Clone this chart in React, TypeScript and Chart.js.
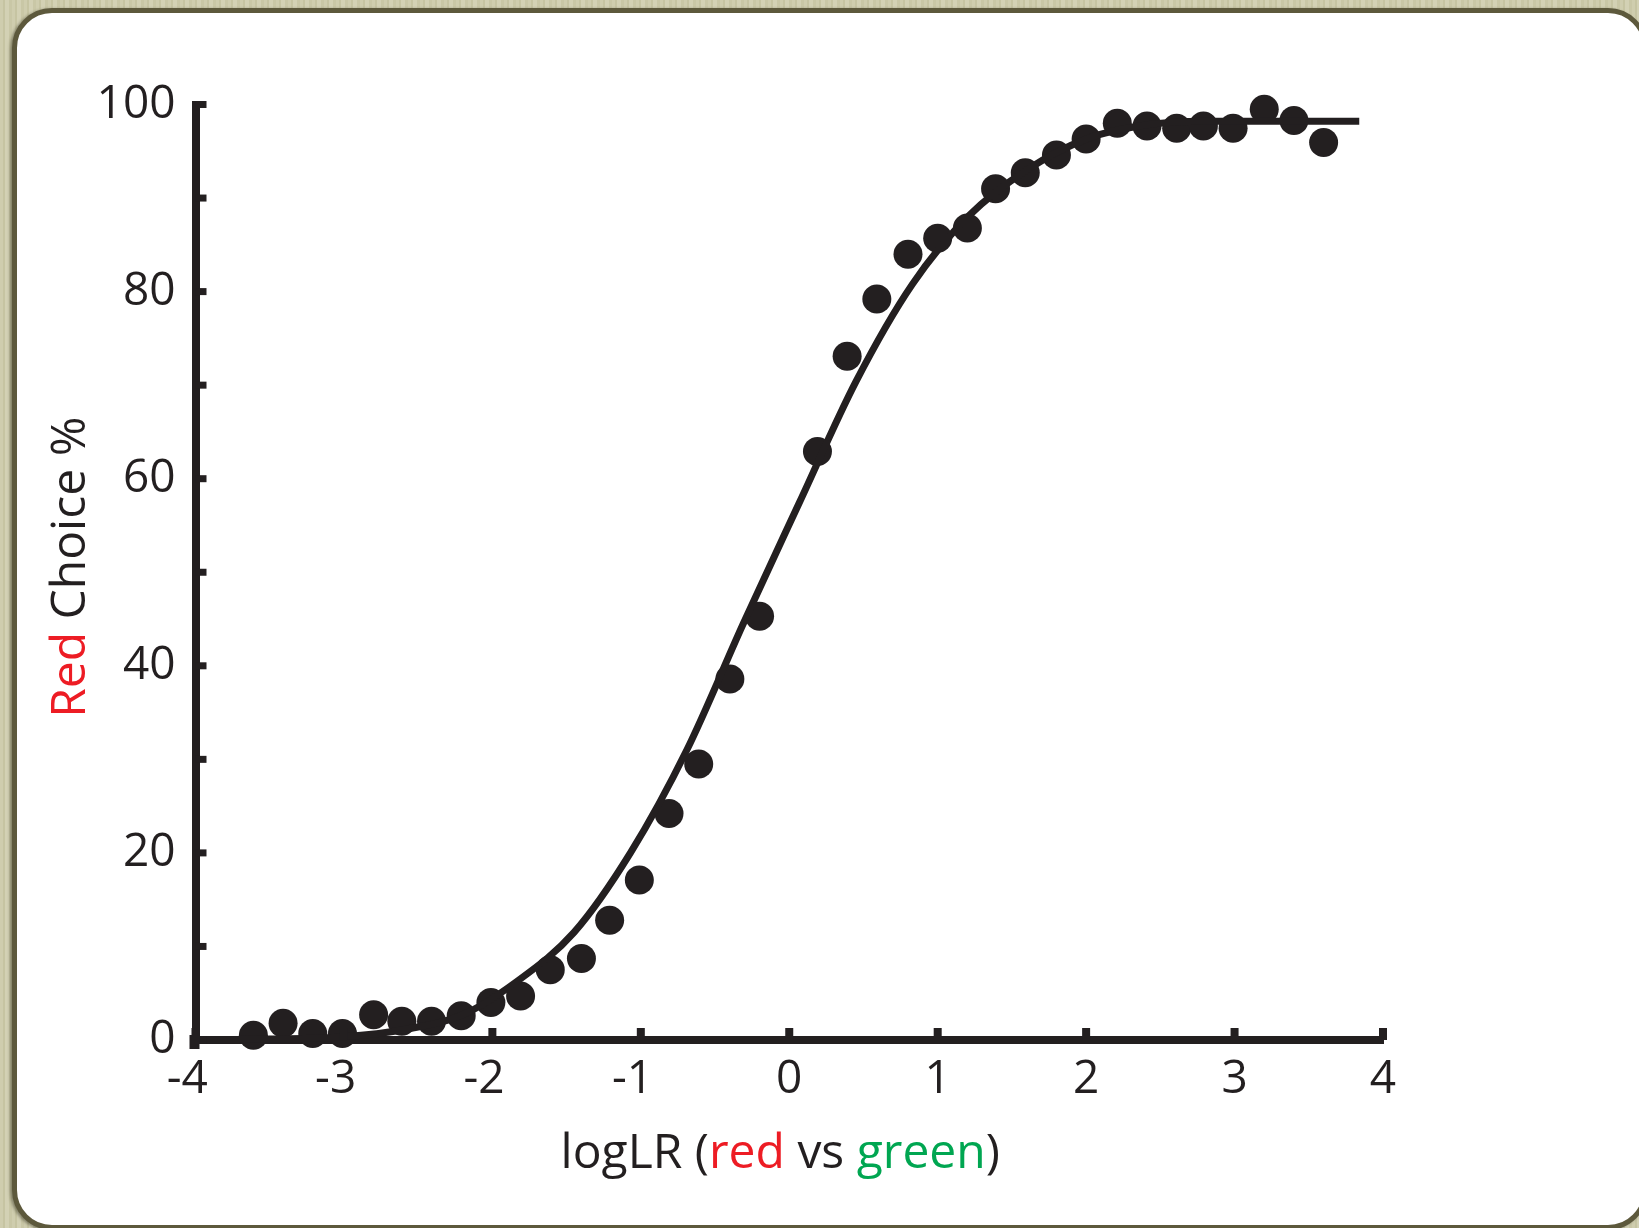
import React, { useEffect, useRef } from "react";
import { Chart, registerables } from "chart.js";

Chart.register(...registerables);

// ---- data ----
const POINT_X = [
  -3.61, -3.41, -3.21, -3.01, -2.8, -2.61, -2.41, -2.21, -2.01, -1.81, -1.61, -1.4,
  -1.21, -1.01, -0.81, -0.61, -0.4, -0.2, 0.19, 0.39, 0.59, 0.8, 1.0, 1.2, 1.39, 1.59,
  1.8, 2.0, 2.21, 2.41, 2.61, 2.79, 2.99, 3.2, 3.4, 3.6,
];
const POINT_Y = [
  0.5, 1.8, 0.7, 0.7, 2.7, 2.0, 2.0, 2.6, 4.0, 4.7, 7.5, 8.7, 12.8, 17.1, 24.2, 29.5,
  38.6, 45.3, 62.9, 73.1, 79.2, 84.0, 85.7, 86.8, 91.0, 92.7, 94.6, 96.3, 98.0, 97.7,
  97.45, 97.7, 97.45, 99.5, 98.3, 95.95,
];
const FIT_X = [
  -4, -3.5, -3, -2.6, -2.2, -1.84, -1.45, -1.07, -0.69, -0.31, 0.07, 0.45, 0.83, 1.21,
  1.6, 2.0, 2.4, 2.8, 3.2, 3.84,
];
const FIT_Y = [
  0.0, 0.1, 0.35, 1.1, 2.7, 6.2, 11.5, 20.0, 31.0, 44.5, 57.5, 70.4, 80.8, 88.1, 93.0,
  96.3, 97.8, 98.2, 98.2, 98.2,
];
const X_TITLE = [
  ["logLR (", "ink"],
  ["red", "red"],
  [" vs ", "ink"],
  ["green", "green"],
  [")", "ink"],
];
const Y_TITLE = [
  ["Red", "red"],
  [" Choice %", "ink"],
];

const INK = "#231f20";
const COLORS: Record<string, string> = { ink: INK, red: "#ed1c24", green: "#00a651" };
const FONT = '"Open Sans", "Noto Sans", sans-serif';

const decorPlugin = {
  id: "decor",
  afterDraw(chart: any) {
    const { ctx, chartArea, scales } = chart;
    const xs = scales.x;
    const ys = scales.y;
    ctx.save();
    ctx.fillStyle = INK;
    // inward tick marks
    ys.ticks.forEach((t: any) => {
      const py = ys.getPixelForValue(t.value);
      ctx.fillRect(chartArea.left, py - 3.5, 11, 7);
    });
    xs.ticks.forEach((t: any) => {
      const px = xs.getPixelForValue(t.value);
      ctx.fillRect(px - 4, chartArea.bottom - 12, 8, 12);
    });
    // corner foot
    ctx.fillRect(chartArea.left - 6, chartArea.bottom - 5, 10, 14);

    // x title
    ctx.font = `48px ${FONT}`;
    ctx.textBaseline = "alphabetic";
    ctx.textAlign = "left";
    const widths = X_TITLE.map((p) => ctx.measureText(p[0]).width);
    const total = widths.reduce((a, b) => a + b, 0);
    let x0 = (chartArea.left + chartArea.right) / 2 - 9 - total / 2;
    const by = chartArea.bottom + 128;
    X_TITLE.forEach((p, i) => {
      ctx.fillStyle = COLORS[p[1]];
      ctx.fillText(p[0], x0, by);
      x0 += widths[i];
    });

    // y title
    ctx.font = `48px ${FONT}`;
    const yw = Y_TITLE.map((p) => ctx.measureText(p[0]).width);
    const ytot = yw.reduce((a, b) => a + b, 0);
    ctx.translate(chartArea.left - 111, (chartArea.top + chartArea.bottom) / 2 - 5);
    ctx.rotate(-Math.PI / 2);
    let s = -ytot / 2;
    Y_TITLE.forEach((p, i) => {
      ctx.fillStyle = COLORS[p[1]];
      ctx.fillText(p[0], s, 0);
      s += yw[i];
    });
    ctx.restore();
  },
};

export default function App() {
  const ref = useRef<HTMLCanvasElement>(null);

  useEffect(() => {
    if (!ref.current) return;
    const chart = new Chart(ref.current, {
      type: "scatter",
      data: {
        datasets: [
          {
            label: "fit",
            data: FIT_X.map((x, i) => ({ x, y: FIT_Y[i] })),
            showLine: true,
            borderColor: INK,
            borderWidth: 7,
            pointRadius: 0,
            cubicInterpolationMode: "monotone",
            clip: false,
            order: 1,
          } as any,
          {
            label: "data",
            data: POINT_X.map((x, i) => ({ x, y: POINT_Y[i] })),
            backgroundColor: INK,
            borderWidth: 0,
            pointRadius: 14.5,
            clip: false,
            order: 2,
          } as any,
        ],
      },
      options: {
        animation: false,
        responsive: false,
        devicePixelRatio: 1,
        layout: { padding: { left: 0, right: 256, top: 104.5, bottom: 0 } },
        plugins: { legend: { display: false }, tooltip: { enabled: false } },
        scales: {
          x: {
            type: "linear",
            min: -4,
            max: 4,
            afterFit: (s: any) => {
              s.height = 188;
            },
            grid: { display: false, drawTicks: false },
            border: { display: true, color: INK, width: 8 },
            ticks: {
              stepSize: 1,
              color: INK,
              padding: 12,
              font: { family: FONT, size: 46 },
              callback: (v: any) => (Number(v) < 0 ? String(v) + " \u200A" : String(v)),
            },
          },
          y: {
            type: "linear",
            min: 0,
            max: 100,
            afterFit: (s: any) => {
              s.width = 195.5;
            },
            grid: { display: false, drawTicks: false },
            border: { display: true, color: INK, width: 8 },
            ticks: {
              stepSize: 10,
              color: INK,
              padding: 20,
              font: { family: FONT, size: 46 },
              callback: (v: any) => (Number(v) % 20 === 0 ? String(v) : ""),
            },
          },
        },
      },
      plugins: [decorPlugin],
    });
    return () => chart.destroy();
  }, []);

  return (
    <div
      style={{
        position: "fixed",
        inset: 0,
        overflow: "hidden",
        background:
          "repeating-linear-gradient(90deg, #cfcdae 0px, #cfcdae 3px, #c6c4a2 3px, #c6c4a2 5px, #d3d1b4 5px, #d3d1b4 9px, #c9c7a6 9px, #c9c7a6 12px)",
      }}
    >
      <div
        style={{
          position: "absolute",
          left: 12,
          top: 8,
          width: 1636,
          height: 1222,
          boxSizing: "border-box",
          border: "5px solid #5d593c",
          borderRadius: 40,
          background: "#ffffff",
          boxShadow: "-2px 1px 3px rgba(40,38,20,0.45)",
        }}
      />
      <canvas
        ref={ref}
        width={1639}
        height={1228}
        style={{ position: "absolute", left: 0, top: 0, width: 1639, height: 1228 }}
      />
    </div>
  );
}
